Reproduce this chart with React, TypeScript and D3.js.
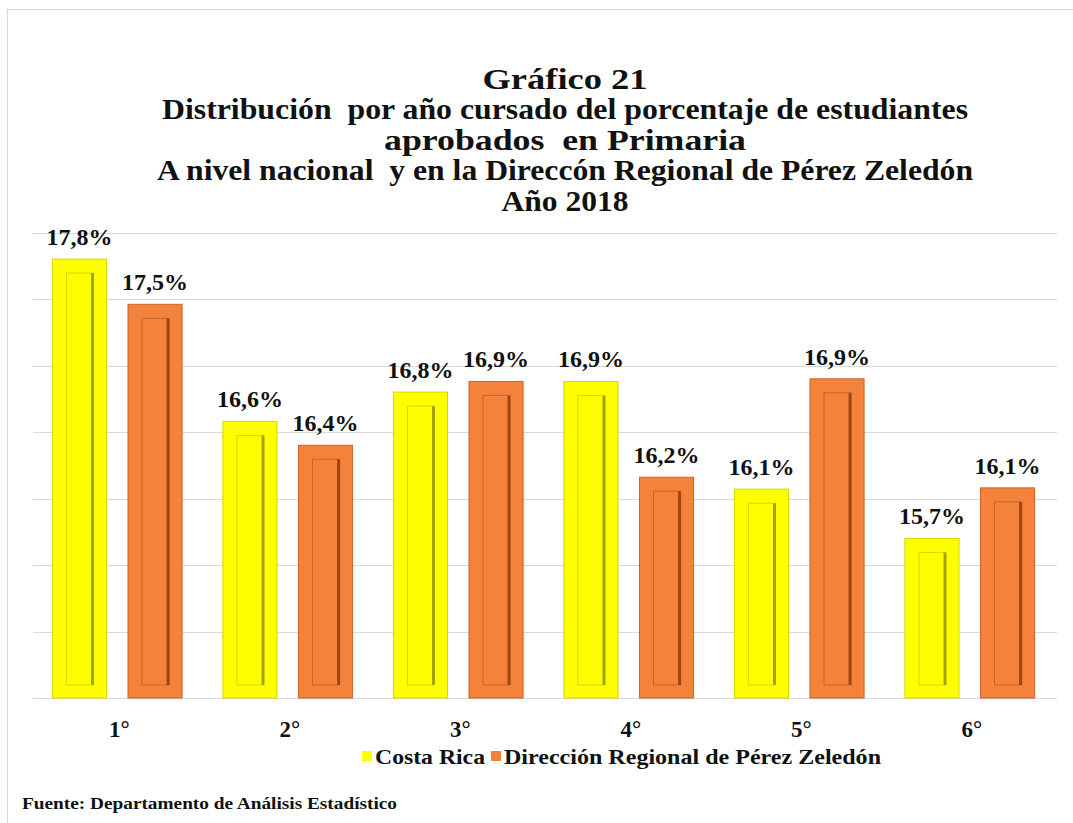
import React, { useRef, useEffect } from 'react';
import * as d3 from 'd3';

const grades = ['1°', '2°', '3°', '4°', '5°', '6°'];
const costaRica = [17.8, 16.58, 16.8, 16.88, 16.07, 15.7];
const perezZeledon = [17.46, 16.4, 16.88, 16.16, 16.9, 16.08];
const seriesNames = ['Costa Rica', 'Dirección Regional de Pérez Zeledón'];
const gridTicks = [14.5, 15, 15.5, 16, 16.5, 17, 17.5, 18];
const titleLines = [
    'Gráfico 21',
    'Distribución  por año cursado del porcentaje de estudiantes',
    'aprobados  en Primaria',
    'A nivel nacional  y en la Direccón Regional de Pérez Zeledón',
    'Año 2018',
];
// measured widths of the title lines in the original
const titleWidths = [165, 806, 362, 816, 127];
const legendWidths = [110, 377];

const colors = ['#FFFF00', '#F4823A'];
const darkColors = ['#A3A300', '#9C4612'];
const edgeColors = ['#D6D600', '#C9642A'];

const App: React.FC = () => {
    const svgRef = useRef<SVGSVGElement | null>(null);

    useEffect(() => {
        if (!svgRef.current) return;
        const svg = d3.select(svgRef.current);
        svg.selectAll('*').remove();

        const width = 1073;
        const height = 823;
        const font = '"Liberation Serif", "Times New Roman", serif';

        // outer frame
        svg.append('rect')
            .attr('x', 7.5).attr('y', 9.5)
            .attr('width', width + 20).attr('height', height + 20)
            .attr('fill', '#fff')
            .attr('stroke', '#d6d6d6');

        // title
        svg.append('g').selectAll('text')
            .data(titleLines)
            .enter().append('text')
            .attr('x', 565)
            .attr('y', (d, i) => 89 + i * 30.4)
            .attr('text-anchor', 'middle')
            .attr('textLength', (d, i) => titleWidths[i])
            .attr('lengthAdjust', 'spacingAndGlyphs')
            .style('font-family', font)
            .style('font-weight', 'bold')
            .style('font-size', '30px')
            .style('white-space', 'pre')
            .attr('fill', '#111')
            .text(d => d);

        const x0 = d3.scaleBand<string>().domain(grades).range([32, 1055]);
        const x1 = d3.scaleBand<number>().domain([0, 1]).range([0, x0.bandwidth()])
            .paddingInner(0.284).paddingOuter(0.27);
        const y = d3.scaleLinear().domain([14.5, 18]).range([698, 232.5]);

        // gridlines
        svg.append('g').selectAll('line')
            .data(gridTicks)
            .enter().append('line')
            .attr('x1', 33).attr('x2', 1057)
            .attr('y1', d => Math.round(y(d)) + 0.5)
            .attr('y2', d => Math.round(y(d)) + 0.5)
            .attr('stroke', '#d9d9d9')
            .attr('stroke-width', 1);

        const data = grades.map((g, i) => ({ grade: g, values: [costaRica[i], perezZeledon[i]] }));

        const groups = svg.append('g').selectAll('g')
            .data(data)
            .enter().append('g')
            .attr('transform', d => `translate(${x0(d.grade)},0)`);

        const bars = groups.selectAll('g')
            .data(d => d.values.map((v, s) => ({ v, s })))
            .enter().append('g');

        const bw = x1.bandwidth();
        const inset = 14;

        bars.append('rect')
            .attr('x', d => x1(d.s)!)
            .attr('y', d => y(d.v))
            .attr('width', bw)
            .attr('height', d => y(14.5) - y(d.v))
            .attr('fill', d => colors[d.s])
            .attr('stroke', d => edgeColors[d.s])
            .attr('stroke-width', 1);

        // bevel inner panel
        bars.append('rect')
            .attr('x', d => x1(d.s)! + inset)
            .attr('y', d => y(d.v) + inset)
            .attr('width', bw - 2 * inset)
            .attr('height', d => y(14.5) - y(d.v) - 2 * inset + 1)
            .attr('fill', 'none')
            .attr('stroke', d => edgeColors[d.s])
            .attr('stroke-width', 1);

        bars.append('line')
            .attr('x1', d => x1(d.s)! + bw - inset)
            .attr('x2', d => x1(d.s)! + bw - inset)
            .attr('y1', d => y(d.v) + inset)
            .attr('y2', d => y(14.5) - inset + 1)
            .attr('stroke', d => darkColors[d.s])
            .attr('stroke-width', 3);

        // value labels
        bars.append('text')
            .attr('x', d => x1(d.s)! + bw / 2)
            .attr('y', d => y(d.v) - 14)
            .attr('text-anchor', 'middle')
            .attr('textLength', 66)
            .attr('lengthAdjust', 'spacingAndGlyphs')
            .style('font-family', font)
            .style('font-weight', 'bold')
            .style('font-size', '24px')
            .attr('fill', '#111')
            .text(d => d.v.toFixed(1).replace('.', ',') + '%');

        // category labels
        svg.append('g').selectAll('text')
            .data(grades)
            .enter().append('text')
            .attr('x', d => x0(d)! + x0.bandwidth() / 2 + 2)
            .attr('y', 737)
            .attr('text-anchor', 'middle')
            .style('font-family', font)
            .style('font-weight', 'bold')
            .style('font-size', '23px')
            .attr('fill', '#111')
            .text(d => d);

        // legend
        const legendX = [362, 491];
        const legend = svg.append('g').selectAll('g')
            .data(seriesNames)
            .enter().append('g')
            .attr('transform', (d, i) => `translate(${legendX[i]},0)`);

        legend.append('rect')
            .attr('x', 0).attr('y', 751)
            .attr('width', 10).attr('height', 10)
            .attr('fill', (d, i) => colors[i]);

        legend.append('text')
            .attr('x', 13).attr('y', 764)
            .attr('textLength', (d, i) => legendWidths[i])
            .attr('lengthAdjust', 'spacingAndGlyphs')
            .style('font-family', font)
            .style('font-weight', 'bold')
            .style('font-size', '21px')
            .attr('fill', '#111')
            .text(d => d);

        // source
        svg.append('text')
            .attr('x', 22).attr('y', 809)
            .attr('textLength', 375)
            .attr('lengthAdjust', 'spacingAndGlyphs')
            .style('font-family', font)
            .style('font-weight', 'bold')
            .style('font-size', '17px')
            .attr('fill', '#111')
            .text('Fuente: Departamento de Análisis Estadístico');
    }, []);

    return (
        <div style={{ position: 'absolute', left: 0, top: 0 }}>
            <svg ref={svgRef} width="1073" height="823" style={{ display: 'block' }}></svg>
        </div>
    );
};

export default App;
